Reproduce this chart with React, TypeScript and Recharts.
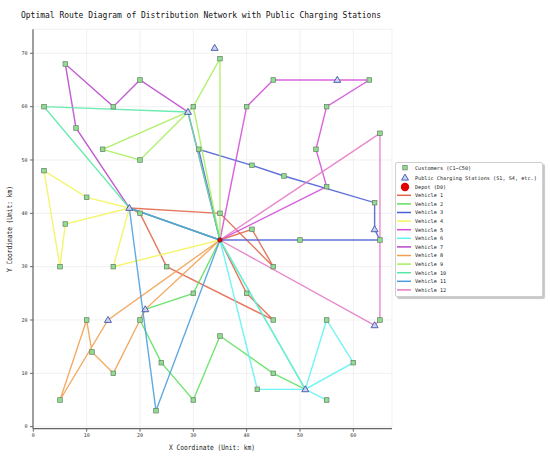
import React from 'react';
import { ScatterChart, Scatter, XAxis, YAxis, CartesianGrid } from 'recharts';

// ---------------- DATA ----------------
const customers: number[][] = [
  [6, 68], [15, 60], [20, 65], [2, 60], [8, 56], [13, 52], [20, 50], [2, 48], [10, 43], [20, 40],
  [30, 60], [6, 38], [5, 30], [15, 30], [25, 30], [30, 25], [10, 20], [20, 20], [11, 14], [15, 10],
  [24, 12], [5, 5], [23, 3], [30, 5], [35, 69], [45, 65], [63, 65], [40, 60], [55, 60], [31, 52],
  [41, 49], [47, 47], [53, 52], [55, 45], [65, 55], [64, 42], [35, 40], [41, 37], [50, 35], [65, 35],
  [45, 30], [40, 25], [45, 20], [35, 17], [45, 10], [55, 20], [60, 12], [42, 7], [55, 5], [65, 20],
];
const stations: number[][] = [
  [34, 71], [57, 65], [29, 59], [18, 41], [64, 37], [21, 22], [14, 20], [51, 7], [64, 19],
];
const depot: number[][] = [[35, 35]];

const route1 = [[35, 35], [41, 37], [45, 30], [35, 40], [18, 41], [20, 40], [25, 30], [45, 20], [40, 25], [35, 35]];
const route2 = [[35, 35], [30, 25], [21, 22], [20, 20], [24, 12], [30, 5], [35, 17], [45, 10], [51, 7], [35, 35]];
const route3 = [[35, 35], [31, 52], [41, 49], [47, 47], [64, 42], [64, 37], [65, 35], [50, 35], [35, 35]];
const route4 = [[35, 35], [18, 41], [10, 43], [2, 48], [5, 30], [6, 38], [18, 41], [15, 30], [35, 35]];
const route5 = [[35, 35], [40, 60], [45, 65], [57, 65], [63, 65], [55, 60], [53, 52], [55, 45], [35, 35]];
const route6 = [[35, 35], [42, 7], [51, 7], [55, 20], [60, 12], [51, 7], [55, 5], [51, 7], [35, 35]];
const route7 = [[35, 35], [18, 41], [8, 56], [6, 68], [15, 60], [20, 65], [29, 59], [35, 35]];
const route8 = [[35, 35], [14, 20], [5, 5], [10, 20], [11, 14], [15, 10], [20, 20], [21, 22], [35, 35]];
const route9 = [[35, 35], [35, 40], [35, 69], [30, 60], [29, 59], [13, 52], [20, 50], [30, 60], [35, 35]];
const route10 = [[35, 35], [29, 59], [2, 60], [18, 41], [35, 35]];
const route11 = [[35, 35], [18, 41], [23, 3], [35, 35]];
const route12 = [[35, 35], [65, 55], [65, 20], [64, 19], [35, 35]];

const routes = [route1, route2, route3, route4, route5, route6, route7, route8, route9, route10, route11, route12];
const vehicleNames = [
  'Vehicle 1', 'Vehicle 2', 'Vehicle 3', 'Vehicle 4', 'Vehicle 5', 'Vehicle 6',
  'Vehicle 7', 'Vehicle 8', 'Vehicle 9', 'Vehicle 10', 'Vehicle 11', 'Vehicle 12',
];
const vehicleColors = [
  '#e0674a', '#5ee05e', '#4a5fd4', '#f4f45a', '#d44cd8', '#5ff2f2',
  '#b946cc', '#f0a04e', '#a8ee5e', '#55e8a4', '#4a9ee0', '#e47ac6',
];
const markerLabels = ['Customers (C1~C50)', 'Public Charging Stations (S1, S4, etc.)', 'Depot (D0)'];

const xTicks = [0, 10, 20, 30, 40, 50, 60];
const yTicks = [0, 10, 20, 30, 40, 50, 60, 70];
const titleText = 'Optimal Route Diagram of Distribution Network with Public Charging Stations';
const xLabel = 'X Coordinate (Unit: km)';
const yLabel = 'Y Coordinate (Unit: km)';

// ---------------- STYLE ----------------
const FONT = '"DejaVu Sans Mono", "Liberation Mono", monospace';
const xDomain: [number, number] = [-0.06, 67.26];
const yDomain: [number, number] = [-0.38, 74.5];
const toPts = (arr: number[][]) => arr.map(([x, y]) => ({ x, y }));

const CUST_FILL = '#8ddf8d';
const CUST_STROKE = '#6b7a6b';
const ST_FILL = '#c9d3f3';
const ST_STROKE = '#4353a8';

const SquareShape = (props: any) => {
  const { cx, cy } = props;
  if (cx == null || cy == null) return <g />;
  const s = 4.6;
  return <rect x={cx - s / 2} y={cy - s / 2} width={s} height={s} fill={CUST_FILL} stroke={CUST_STROKE} strokeWidth={0.7} />;
};
const TriangleShape = (props: any) => {
  const { cx, cy } = props;
  if (cx == null || cy == null) return <g />;
  const w = 7, h = 6;
  const d = `M${cx},${cy - h * 0.6} L${cx + w / 2},${cy + h * 0.4} L${cx - w / 2},${cy + h * 0.4} Z`;
  return <path d={d} fill={ST_FILL} stroke={ST_STROKE} strokeWidth={0.9} />;
};
const DepotShape = (props: any) => {
  const { cx, cy } = props;
  if (cx == null || cy == null) return <g />;
  return <circle cx={cx} cy={cy} r={2.3} fill="#d81010" stroke="#501010" strokeWidth={0.6} />;
};
const NoShape = () => <g />;

const Legend = () => {
  const rowY = [5.7, 15.7, 25];
  for (let i = 0; i < vehicleNames.length; i++) rowY.push(33.3 + 8.6 * i);
  const fs = 5.2;
  const items: React.ReactNode[] = [];
  items.push(<rect key="m0" x={10 - 2.2} y={rowY[0] - 2.2} width={4.4} height={4.4} fill={CUST_FILL} stroke={CUST_STROKE} strokeWidth={0.7} />);
  items.push(<path key="m1" d={`M10,${rowY[1] - 3.6} L13.5,${rowY[1] + 2.4} L6.5,${rowY[1] + 2.4} Z`} fill={ST_FILL} stroke={ST_STROKE} strokeWidth={0.9} />);
  items.push(<circle key="m2" cx={10} cy={rowY[2]} r={4.2} fill="#e00000" />);
  markerLabels.forEach((t, i) => {
    items.push(
      <text key={'t' + i} x={20} y={rowY[i] + 1.8} fontSize={fs} fontFamily={FONT} fill="#222">{t}</text>
    );
  });
  vehicleNames.forEach((t, i) => {
    const y = rowY[3 + i];
    items.push(<line key={'l' + i} x1={2} x2={16} y1={y} y2={y} stroke={vehicleColors[i]} strokeWidth={1.5} />);
    items.push(
      <text key={'v' + i} x={20} y={y + 1.8} fontSize={fs} fontFamily={FONT} fill="#222">{t}</text>
    );
  });
  return (
    <div style={{ position: 'absolute', left: 395, top: 162, width: 148, height: 135, background: '#fff', border: '1px solid #cfcfcf', borderRadius: 2, boxShadow: '2px 2px 1px rgba(0,0,0,0.22)', boxSizing: 'border-box' }}>
      <svg width={148} height={135} style={{ position: 'absolute', left: -1, top: -1 }}>{items}</svg>
    </div>
  );
};

export default function App() {
  return (
    <div style={{ position: 'absolute', left: 0, top: 0, width: 550, height: 460, background: '#fff', overflow: 'hidden' }}>
      <ScatterChart width={550} height={460} margin={{ top: 29.3, right: 158, bottom: 11.3, left: 8 }}>
        <CartesianGrid stroke="#ebebeb" strokeWidth={0.7} />
        <XAxis
          type="number" dataKey="x" domain={xDomain} ticks={xTicks} allowDataOverflow height={20}
          tickSize={3} tickMargin={1.5}
          tick={{ fontSize: 5, fill: '#333', fontFamily: FONT }}
          axisLine={{ stroke: '#666', strokeWidth: 1.2 }} tickLine={{ stroke: '#666' }}
        />
        <YAxis
          type="number" dataKey="y" domain={yDomain} ticks={yTicks} allowDataOverflow width={25}
          tickSize={3} tickMargin={2.5}
          tick={{ fontSize: 5, fill: '#333', fontFamily: FONT }}
          axisLine={{ stroke: '#666', strokeWidth: 1.2 }} tickLine={{ stroke: '#666' }}
        />
        <XAxis xAxisId="top" orientation="top" type="number" domain={xDomain} allowDataOverflow height={0} tick={false} tickLine={false} axisLine={{ stroke: '#666', strokeWidth: 1.2 }} />
        <YAxis yAxisId="right" orientation="right" type="number" domain={yDomain} allowDataOverflow width={0} tick={false} tickLine={false} axisLine={{ stroke: '#666', strokeWidth: 1.2 }} />
        {routes.map((r, i) => (
          <Scatter
            key={vehicleNames[i]}
            name={vehicleNames[i]}
            data={toPts(r)}
            line={{ stroke: vehicleColors[i], strokeWidth: 1.4, strokeOpacity: 0.88 }}
            lineJointType="linear"
            shape={NoShape}
            fill={vehicleColors[i]}
            isAnimationActive={false}
          />
        ))}
        <Scatter name="Depot" data={toPts(depot)} shape={DepotShape} isAnimationActive={false} />
        <Scatter name="Customers" data={toPts(customers)} shape={SquareShape} isAnimationActive={false} />
        <Scatter name="Stations" data={toPts(stations)} shape={TriangleShape} isAnimationActive={false} />
      </ScatterChart>
      <svg width={550} height={460} style={{ position: 'absolute', left: 0, top: 0, pointerEvents: 'none' }}>
        <text x={21} y={18} fontSize={9.5} fontFamily={FONT} fill="#111" textLength={titleText.length * 4.8} lengthAdjust="spacingAndGlyphs">{titleText}</text>
        <text x={212} y={450} fontSize={7.4} fontFamily={FONT} fill="#222" textAnchor="middle" textLength={xLabel.length * 3.74} lengthAdjust="spacingAndGlyphs">{xLabel}</text>
        <text x={0} y={0} transform="translate(11.5,229) rotate(-90)" fontSize={7.4} fontFamily={FONT} fill="#222" textAnchor="middle" textLength={yLabel.length * 3.74} lengthAdjust="spacingAndGlyphs">{yLabel}</text>
      </svg>
      <Legend />
    </div>
  );
}
